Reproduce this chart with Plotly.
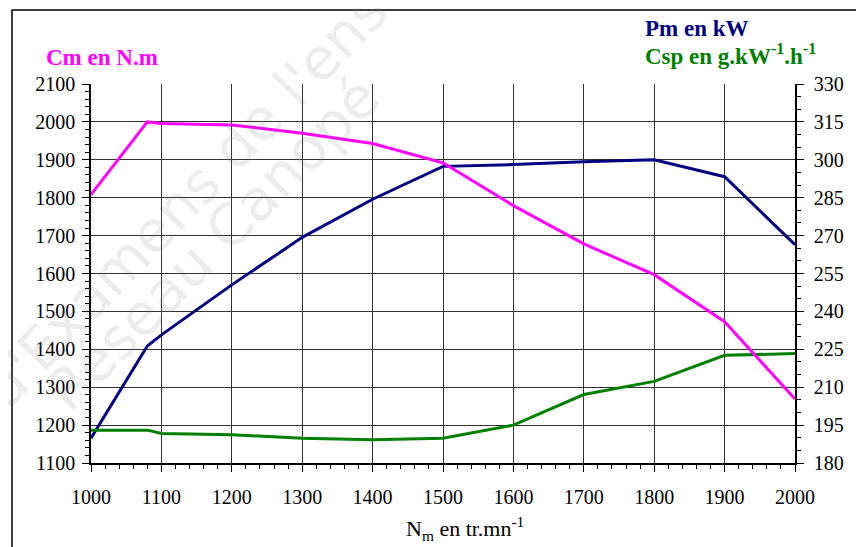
import plotly.graph_objects as go

# Data
rpm = [1000, 1080, 1100, 1200, 1300, 1400, 1500, 1600, 1700, 1800, 1900, 2000]
cm_nm = [1808, 2000, 1996, 1992, 1970, 1943, 1892, 1779, 1678, 1597, 1473, 1269]
pm_kw = [189.8, 226.3, 230.7, 250.5, 269.3, 284.4, 297.4, 298.1, 299.2, 300.0, 293.3, 266.4]
csp = [193.0, 193.0, 191.7, 191.2, 189.8, 189.2, 189.8, 195.0, 207.1, 212.3, 222.6, 223.3]

x_ticks = list(range(1000, 2001, 100))
left_ticks = list(range(1100, 2101, 100))
right_ticks = list(range(180, 331, 15))

SERIF = "Liberation Serif"
OFF = 8  # default page margin of the browser
W, H = 864 - OFF, 547 - OFF
# plot area in screen pixels: x 91..795, y 84..463
L, R, T, B = 91 - OFF, 864 - 795, 84 - OFF, 547 - 463

def px(xs):
    return (xs - 91) / (795 - 91)

def py(ys):
    return (463 - ys) / (463 - 84)

fig = go.Figure()
fig.add_trace(go.Scatter(x=rpm, y=pm_kw, mode="lines", yaxis="y",
                         line=dict(color="#000080", width=3), name="Pm"))
fig.add_trace(go.Scatter(x=rpm, y=csp, mode="lines", yaxis="y",
                         line=dict(color="#008000", width=3), name="Csp"))
fig.add_trace(go.Scatter(x=rpm, y=cm_nm, mode="lines", yaxis="y2",
                         line=dict(color="#FF00FF", width=3), name="Cm"))

axis_font = dict(family=SERIF, size=20, color="black")

fig.update_layout(
    width=W, height=H,
    margin=dict(l=L, r=R, t=T, b=B),
    paper_bgcolor="white", plot_bgcolor="white",
    showlegend=False,
    font=dict(family=SERIF),
    xaxis=dict(range=[1000, 2000], tickvals=x_ticks, ticktext=[str(v) for v in x_ticks],
               showgrid=True, gridcolor="#333333", gridwidth=1,
               showline=True, linecolor="black", linewidth=1.5,
               ticks="outside", ticklen=7, tickcolor="black", tickwidth=1,
               tickfont=axis_font, zeroline=False, ticklabelstandoff=8,
               minor=dict(dtick=20, ticks="outside", ticklen=4, tickcolor="black", showgrid=False)),
    yaxis=dict(range=[180, 330], tickvals=right_ticks, ticktext=[str(v) for v in right_ticks],
               side="right", showgrid=True, gridcolor="#333333", gridwidth=1,
               showline=True, linecolor="black", linewidth=1.5,
               ticks="outside", ticklen=7, tickcolor="black", tickwidth=1,
               tickfont=axis_font, zeroline=False, ticklabelstandoff=6,
               minor=dict(dtick=5, ticks="outside", ticklen=4, tickcolor="black", showgrid=False)),
    yaxis2=dict(range=[1100, 2100], tickvals=left_ticks, ticktext=[str(v) for v in left_ticks],
                side="left", overlaying="y", showgrid=False,
                showline=True, linecolor="black", linewidth=1.5,
                ticks="outside", ticklen=7, tickcolor="black", tickwidth=1,
                tickfont=axis_font, zeroline=False, ticklabelstandoff=3,
                minor=dict(dtick=20, ticks="outside", ticklen=4, tickcolor="black", showgrid=False)),
)

# Outer frame
fig.add_shape(type="rect", xref="paper", yref="paper",
              x0=px(12), x1=px(860), y0=py(600), y1=py(10),
              line=dict(color="black", width=1.5), fillcolor="rgba(0,0,0,0)", layer="below")

# Watermark
wm_font = dict(family="DejaVu Sans, sans-serif", size=57, color="rgba(120,120,120,0.14)")
fig.add_annotation(text="Sujets d'Examens de l'enseignement", xref="paper", yref="paper",
                   x=px(224), y=py(158), xanchor="center", yanchor="middle",
                   textangle=-46, showarrow=False, font=wm_font)
fig.add_annotation(text="Réseau Canopé", xref="paper", yref="paper",
                   x=px(212), y=py(244), xanchor="center", yanchor="middle",
                   textangle=-45, showarrow=False, font=wm_font)

# Titles
fig.add_annotation(text="<b>Cm en N.m</b>", xref="paper", yref="paper",
                   x=px(44), y=py(67), xanchor="left", yanchor="bottom", yshift=-5,
                   showarrow=False, font=dict(family=SERIF, size=23, color="#FF00FF"))
fig.add_annotation(text="<b>Pm en kW</b>", xref="paper", yref="paper",
                   x=px(643), y=py(38), xanchor="left", yanchor="bottom", yshift=-5,
                   showarrow=False, font=dict(family=SERIF, size=23, color="#000080"))
fig.add_annotation(text="<b>Csp en g.kW<sup>-1</sup>.h<sup>-1</sup></b>", xref="paper", yref="paper",
                   x=px(643), y=py(66), xanchor="left", yanchor="bottom", yshift=-5,
                   showarrow=False, font=dict(family=SERIF, size=23, color="#008000"))
fig.add_annotation(text="N<sub>m</sub> en tr.mn<sup>-1</sup>", xref="paper", yref="paper",
                   x=px(465), y=py(528), xanchor="center", yanchor="middle",
                   showarrow=False, font=dict(family=SERIF, size=22, color="black"))

fig.write_html("out.html")
